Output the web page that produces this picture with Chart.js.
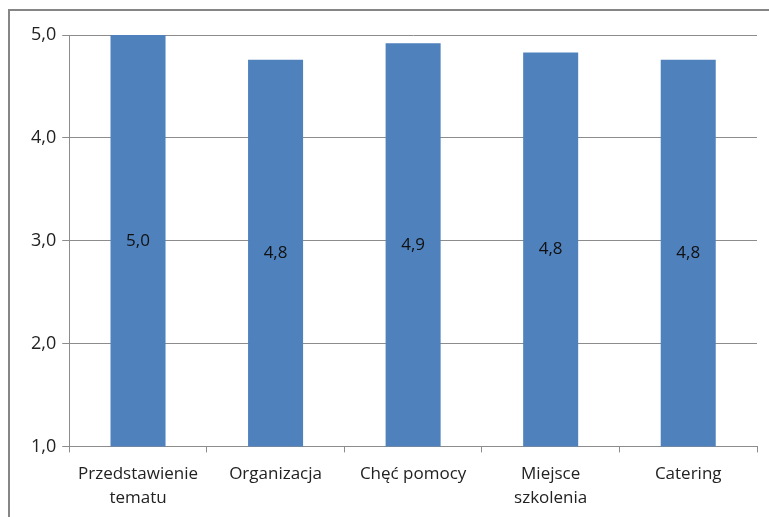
<!DOCTYPE html>
<html>
<head>
<meta charset="utf-8">
<script src="https://cdn.jsdelivr.net/npm/chart.js@4"></script>
<style>
  body { margin: 0; background: #fff; }
  #wrap { position: relative; width: 769px; height: 517px; overflow: hidden; }
  #frame { position: absolute; left: 8px; top: 9px; width: 900px; height: 700px;
           border: 2px solid #868686; pointer-events: none; }
</style>
</head>
<body>
<div id="wrap">
  <canvas id="chart-bar" width="769" height="517"></canvas>
  <div id="frame"></div>
</div>
<script>
let categories = [["Przedstawienie", "tematu"], "Organizacja", "Chęć pomocy", ["Miejsce", "szkolenia"], "Catering"];
let scores = [5.0, 4.76, 4.92, 4.83, 4.76];
let yTicks = [1, 2, 3, 4, 5];

const fmt = (v) => v.toFixed(1).replace(".", ",");

// value labels in the middle of each bar
const midLabels = {
  id: "midLabels",
  afterDatasetsDraw(chart) {
    const ctx = chart.ctx;
    const yScale = chart.scales.y;
    const bottom = yScale.getPixelForValue(yScale.min);
    const meta = chart.getDatasetMeta(0);
    ctx.save();
    ctx.font = "17px 'Open Sans'";
    ctx.fillStyle = "#111";
    ctx.textAlign = "center";
    ctx.textBaseline = "middle";
    meta.data.forEach((bar, i) => {
      ctx.fillText(fmt(scores[i]), bar.x, (bar.y + bottom) / 2);
    });
    ctx.restore();
  }
};

var ctx = document.getElementById("chart-bar").getContext("2d");
new Chart(ctx, {
  type: "bar",
  data: {
    labels: categories,
    datasets: [{
      data: scores,
      backgroundColor: "#4F81BD",
      barPercentage: 0.4,
      categoryPercentage: 1.0
    }]
  },
  options: {
    responsive: false,
    animation: false,
    layout: { padding: { left: 25, right: 12, top: 35, bottom: -3 } },
    plugins: {
      legend: { display: false },
      tooltip: { enabled: false }
    },
    scales: {
      y: {
        min: 1,
        max: 5,
        afterBuildTicks: (axis) => { axis.ticks = yTicks.map((v) => ({ value: v })); },
        grid: { color: "#8c8c8c", tickLength: 7, lineWidth: 1 },
        border: { color: "#8c8c8c" },
        ticks: {
          color: "#222",
          padding: 6,
          font: { size: 18, family: "Open Sans" },
          callback: (v) => fmt(v)
        }
      },
      x: {
        grid: { drawOnChartArea: false, drawTicks: true, tickLength: 6, color: "#8c8c8c" },
        border: { color: "#8c8c8c" },
        ticks: {
          color: "#222",
          padding: 10,
          maxRotation: 0,
          font: { size: 17, family: "Open Sans", lineHeight: 1.4 }
        }
      }
    }
  },
  plugins: [midLabels]
});
</script>
</body>
</html>
